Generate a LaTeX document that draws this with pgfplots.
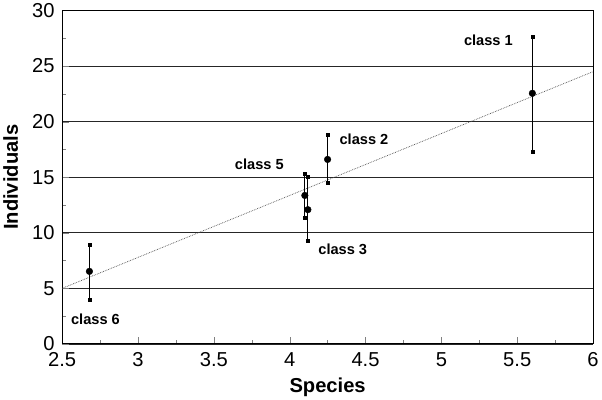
\documentclass[border=0pt]{standalone}
\usepackage{pgfplots}
\pgfplotsset{compat=1.18}
\usepackage{fontspec}
\setmainfont{Liberation Sans}

\begin{document}
\begin{tikzpicture}
\begin{axis}[
  scale only axis,
  width=527pt, height=331pt,
  xmin=2.5, xmax=6, ymin=0, ymax=30,
  xtick={2.5,3,...,6},
  ytick={0,5,...,30},
  xticklabels={2.5,3,3.5,4,4.5,5,5.5,6},
  minor x tick num=1, minor y tick num=1,
  tick align=inside,
  xtick pos=left, ytick pos=left,
  major tick length=7pt, minor tick length=4pt,
  ymajorgrids, major grid style={black!85, line width=0.7pt},
  axis line style={black, line width=0.9pt},
  /pgf/number format/assume math mode=true,
  tick label style={font=\fontsize{20}{22}\selectfont},
  xticklabel style={yshift=-5pt},
  yticklabel style={xshift=-4pt},
  xlabel={\textbf{Species}}, ylabel={\textbf{Individuals}},
  label style={font=\fontsize{20}{22}\selectfont},
  xlabel style={yshift=-4pt},
  ylabel style={yshift=7pt},
  clip=false,
]
% fitted trend
\addplot[black!70, densely dotted, line width=0.7pt] coordinates {(2.5,5.0) (6,24.5)};
% class means with ranges
\addplot[black, only marks, mark=*, mark size=3.3pt,
  error bars/.cd, y dir=both, y explicit,
  error bar style={line width=0.8pt},
  error mark=square*, error mark options={mark size=1.5pt, black}]
  table[x=x, y=y, y error plus=ep, y error minus=em] {
    x     y      ep    em
    2.68  6.53   2.44  2.53
    4.10  13.36  1.94  1.96
    4.12  12.08  2.97  2.79
    4.25  16.60  2.20  2.10
    5.60  22.55  5.05  5.25
  };
\node[font=\fontsize{14.5}{16}\selectfont\bfseries] at (axis cs:5.31,27.3) {class 1};
\node[font=\fontsize{14.5}{16}\selectfont\bfseries] at (axis cs:4.49,18.4) {class 2};
\node[font=\fontsize{14.5}{16}\selectfont\bfseries] at (axis cs:3.80,16.2) {class 5};
\node[font=\fontsize{14.5}{16}\selectfont\bfseries] at (axis cs:4.35,8.5) {class 3};
\node[font=\fontsize{14.5}{16}\selectfont\bfseries] at (axis cs:2.72,2.2) {class 6};
\end{axis}
\end{tikzpicture}
\end{document}
